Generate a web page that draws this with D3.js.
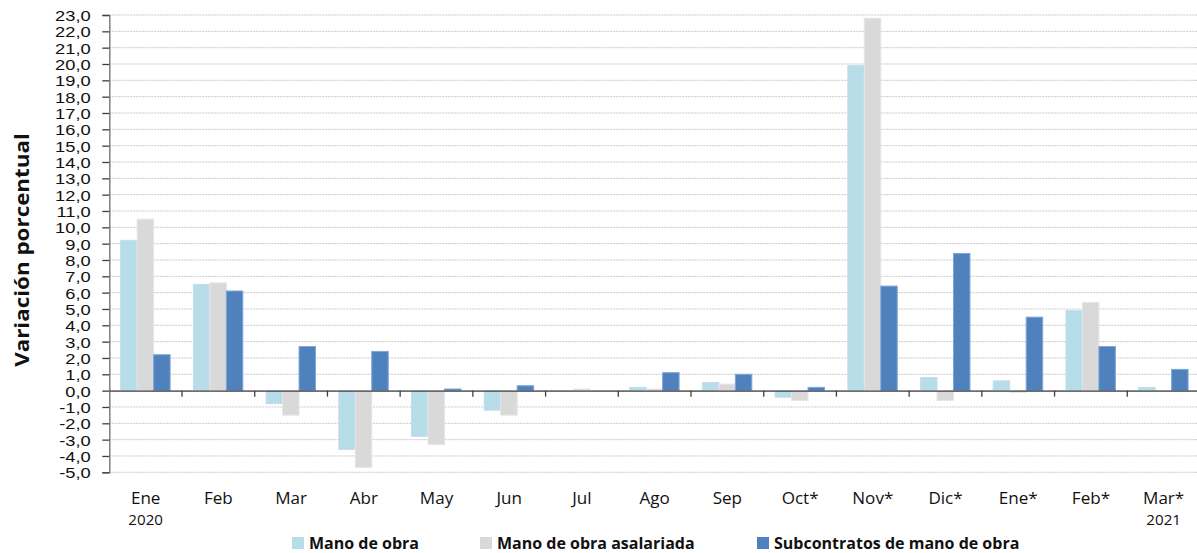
<!DOCTYPE html>
<html><head><meta charset="utf-8">
<script src="https://cdn.jsdelivr.net/npm/d3@7/dist/d3.min.js"></script>
<style>body{margin:0;background:#fff;} svg{display:block;font-family:"Open Sans",sans-serif;}</style>
</head><body><svg id="c" width="1197" height="553"></svg>
<script>
const categories = ["Ene","Feb","Mar","Abr","May","Jun","Jul","Ago","Sep","Oct*","Nov*","Dic*","Ene*","Feb*","Mar*"];
const yearLabels = {0:"2020",14:"2021"};
const seriesNames = ["Mano de obra","Mano de obra asalariada","Subcontratos de mano de obra"];
const manoObra     = [9.2, 6.5, -0.8, -3.6, -2.8, -1.2, 0.0, 0.2, 0.5, -0.4, 19.9, 0.8, 0.6, 4.9, 0.2];
const asalariada   = [10.5, 6.6, -1.5, -4.7, -3.3, -1.5, 0.1, 0.1, 0.4, -0.6, 22.8, -0.6, -0.1, 5.4, 0.0];
const subcontratos = [2.2, 6.1, 2.7, 2.4, 0.1, 0.3, 0.0, 1.1, 1.0, 0.2, 6.4, 8.4, 4.5, 2.7, 1.3];
const yTicks = d3.range(-5, 24, 1);
const colors = ["#b7dde8","#d9d9d9","#4f81bd"];
const strokes = ["#c6dbef","#e6e6e6","#7ea6da"];

const svg = d3.select("#c");
const pLeft = 109.3, pRight = 1200, pTop = 15, pBottom = 472.3;
const x = d3.scaleBand().domain(categories).range([pLeft, pRight]).paddingInner(0).paddingOuter(0);
const xs = d3.scaleBand().domain([0,1,2]).range([11.4, 60.8]).paddingInner(0).paddingOuter(0);
const y = d3.scaleLinear().domain([-5, 23]).range([pBottom, pTop]);

// gridlines
svg.append("g").selectAll("line").data(yTicks).join("line")
  .attr("x1", pLeft).attr("x2", pRight).attr("y1", d=>y(d)).attr("y2", d=>y(d))
  .attr("stroke", "#c8c8c8").attr("stroke-width", 1).attr("stroke-dasharray", "2,1");

// y axis
const ya = svg.append("g").attr("transform", `translate(${pLeft},0)`)
  .call(d3.axisLeft(y).tickValues(yTicks).tickSize(7).tickFormat(d => d3.format(".1f")(d).replace(".", ",").replace("−","-")));
ya.select(".domain").attr("stroke", "#808080").attr("stroke-width", 1.5);
ya.selectAll(".tick line").attr("stroke", "#404040").attr("stroke-width", 1.3);
ya.selectAll(".tick text").attr("fill", "#111").attr("x", 0).attr("dy", "0.36em")
  .attr("transform", "translate(-18.6,0) scale(1.22,1)")
  .attr("font-size", 15);

// bars
const series = [manoObra, asalariada, subcontratos];
series.forEach((vals, si) => {
  svg.append("g").selectAll("rect").data(vals.map((v,i)=>({v, c:categories[i]}))).join("rect")
    .attr("x", d => x(d.c) + xs(si))
    .attr("width", xs.bandwidth())
    .attr("y", d => y(Math.max(0, d.v)))
    .attr("height", d => Math.abs(y(d.v) - y(0)))
    .attr("fill", colors[si]).attr("stroke", strokes[si]).attr("stroke-width", 1);
});

// zero line with category ticks
const xa = svg.append("g").attr("transform", `translate(0,${y(0)})`)
  .call(d3.axisBottom(x).tickValues([]).tickSizeOuter(0));
xa.select(".domain").attr("stroke", "#404040").attr("stroke-width", 1.3);
svg.append("g").selectAll("line").data(categories.slice(1)).join("line")
  .attr("x1", d=>x(d)).attr("x2", d=>x(d)).attr("y1", y(0)).attr("y2", y(0)+6)
  .attr("stroke", "#404040").attr("stroke-width", 1.3);

// category labels
svg.append("g").selectAll("text").data(categories).join("text")
  .attr("transform", d => `translate(${x(d) + x.bandwidth()/2},504) scale(1.08,1)`)
  .attr("text-anchor", "middle").attr("fill", "#111").attr("font-size", 15.8)
  .text(d => d);
svg.append("g").selectAll("text").data(Object.keys(yearLabels)).join("text")
  .attr("transform", d => `translate(${x(categories[+d]) + x.bandwidth()/2},524.5) scale(1.08,1)`)
  .attr("text-anchor", "middle").attr("fill", "#111").attr("font-size", 14)
  .text(d => yearLabels[d]);

// y title
svg.append("text").attr("transform", "translate(28.5,250) rotate(-90) scale(1.12,1)")
  .attr("text-anchor", "middle").attr("font-weight", "bold").attr("fill", "#111")
  .attr("font-size", 20)
  .text("Variación porcentual");

// legend
const legendX = [292, 480, 757];
const lg = svg.append("g");
seriesNames.forEach((n, i) => {
  lg.append("rect").attr("x", legendX[i]).attr("y", 537).attr("width", 12).attr("height", 12).attr("fill", colors[i]);
  lg.append("text").attr("x", legendX[i] + 17).attr("y", 549)
    .attr("font-weight", "bold").attr("fill", "#111").attr("font-size", 16)
    .text(n);
});
</script></body></html>
